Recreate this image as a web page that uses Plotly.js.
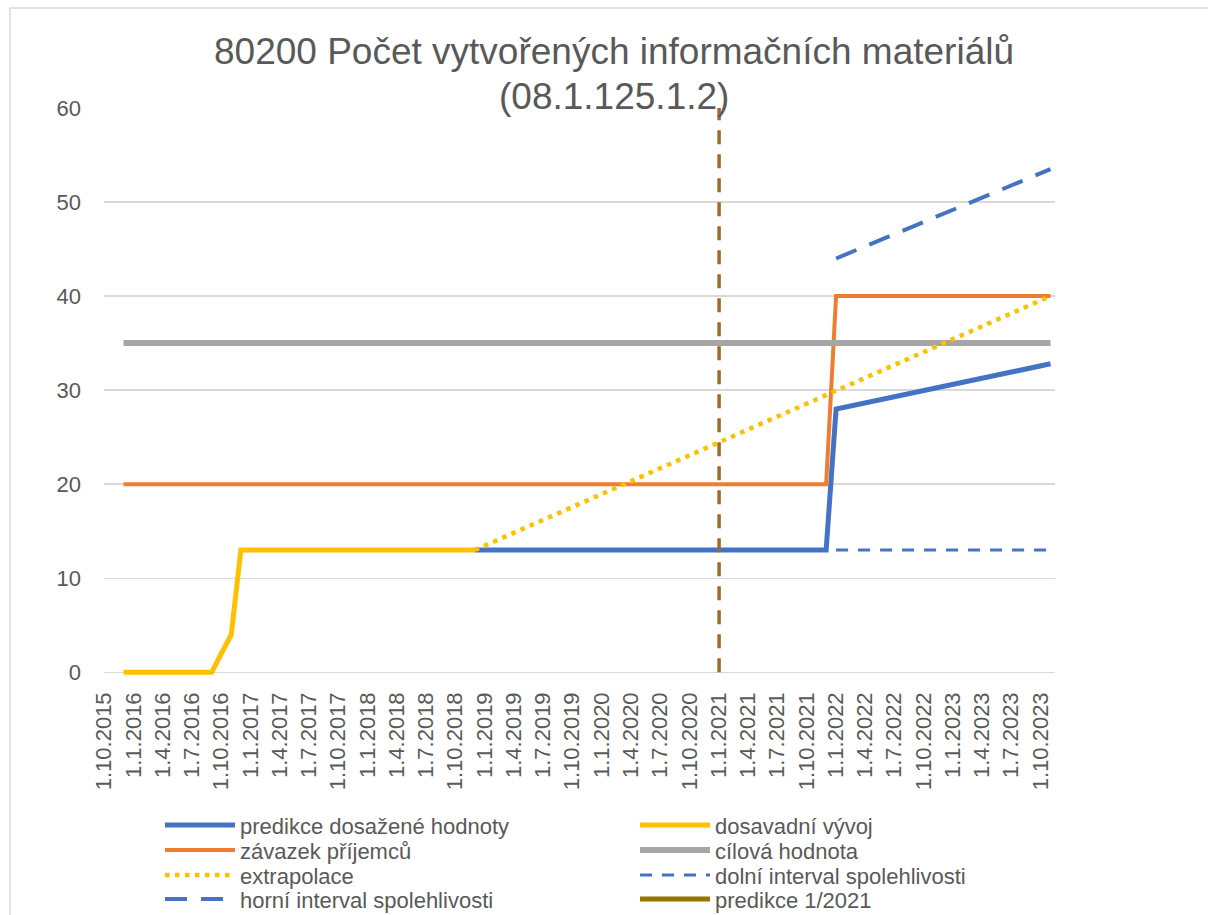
<!DOCTYPE html>
<html>
<head>
<meta charset="utf-8">
<script src="https://cdn.plot.ly/plotly-3.0.1.min.js"></script>
<style>html,body{margin:0;padding:0;background:#fff;}#chart{width:1208px;height:915px;}</style>
</head>
<body>
<div id="chart"></div>
<script>
// Data
var historyDates = ['2015-12-01','2016-09-01','2016-10-01','2016-11-01','2016-12-01','2018-12-01'];
var historyValues = [0, 0, 2, 4, 13, 13];

var predDates = ['2018-12-01','2021-12-01','2022-01-01','2023-11-01'];
var predValues = [13, 13, 28, 32.8];

var commitDates = ['2015-12-01','2021-12-01','2022-01-01','2023-11-01'];
var commitValues = [20, 20, 40, 40];

var targetDates = ['2015-12-01','2023-11-01'];
var targetValues = [35, 35];

var extrapDates = ['2018-12-01','2023-11-01'];
var extrapValues = [13, 40];

var lowerDates = ['2022-01-01','2023-11-01'];
var lowerValues = [13, 13];

var upperDates = ['2022-01-01','2023-11-01'];
var upperValues = [44, 53.5];

var predictionMarkDates = ['2021-01-01','2021-01-01'];
var predictionMarkValues = [0, 60];

var yTicks = [0, 10, 20, 30, 40, 50, 60];

var titleLine1 = '80200 Počet vytvořených informačních materiálů';
var titleLine2 = '(08.1.125.1.2)';

var names = {
  pred: 'predikce dosažené hodnoty',
  hist: 'dosavadní vývoj',
  commit: 'závazek příjemců',
  target: 'cílová hodnota',
  extrap: 'extrapolace',
  lower: 'dolní interval spolehlivosti',
  upper: 'horní interval spolehlivosti',
  mark: 'predikce 1/2021'
};

var traces = [
  {x: predDates, y: predValues, name: names.pred, mode: 'lines', line: {color: '#4472C4', width: 5}, legend: 'legend'},
  {x: commitDates, y: commitValues, name: names.commit, mode: 'lines', line: {color: '#ED7D31', width: 4}, legend: 'legend3'},
  {x: targetDates, y: targetValues, name: names.target, mode: 'lines', line: {color: '#A5A5A5', width: 6}, legend: 'legend4'},
  {x: extrapDates, y: extrapValues, name: names.extrap, mode: 'lines', line: {color: '#FFC000', width: 4.5, dash: '4.5px,5.5px'}, legend: 'legend5'},
  {x: lowerDates, y: lowerValues, name: names.lower, mode: 'lines', line: {color: '#4472C4', width: 3, dash: '12px,10px'}, legend: 'legend6'},
  {x: upperDates, y: upperValues, name: names.upper, mode: 'lines', line: {color: '#4472C4', width: 4, dash: '22px,14px'}, legend: 'legend7'},
  {x: historyDates, y: historyValues, name: names.hist, mode: 'lines', line: {color: '#FFC000', width: 5}, legend: 'legend2'},
  {x: predictionMarkDates, y: predictionMarkValues, name: names.mark, mode: 'lines', line: {color: '#A5682A', width: 3.5, dash: '14px,10px'}, showlegend: false},
  {x: [null], y: [null], name: names.mark, mode: 'lines', line: {color: '#997300', width: 5}, legend: 'legend8'}
];

var yMin = -0.5;
var plotL = 104, plotR = 1055, plotT = 108, plotB = 672 + 0.5 * 9.4;

var legFont = 22;
var rowCenters = [825, 850, 875, 899];
var colX = [160, 635];
function legendBox(col, row) {
  var top = rowCenters[row] - 5 - (1.3 * legFont + 3) / 2;
  return {
    xref: 'container', yref: 'container',
    x: colX[col] / 1208, xanchor: 'left',
    y: 1 - top / 915, yanchor: 'top',
    orientation: 'v', itemwidth: 70,
    bgcolor: 'rgba(0,0,0,0)',
    font: {size: legFont, color: '#595959'}
  };
}

var layout = {
  width: 1208, height: 915,
  margin: {l: plotL, r: 1208 - plotR, t: plotT, b: 915 - plotB, pad: 0, autoexpand: false},
  paper_bgcolor: '#fff', plot_bgcolor: '#fff',
  font: {family: 'Liberation Sans, Arial, sans-serif', color: '#595959', size: 22},
  title: {
    text: titleLine1,
    font: {size: 37, color: '#595959'},
    x: 614 / 1208, xref: 'container', xanchor: 'center',
    y: 1 - 51 / 915, yref: 'container', yanchor: 'middle'
  },
  annotations: [{
    text: titleLine2, showarrow: false,
    xref: 'paper', yref: 'paper',
    x: (614 - plotL) / (plotR - plotL), xanchor: 'center',
    y: (plotB - 97) / (plotB - plotT), yanchor: 'middle',
    font: {size: 37, color: '#595959'}
  }],
  xaxis: {
    type: 'date',
    range: ['2015-10-01', '2023-11-15'],
    tick0: '2015-10-01', dtick: 'M3',
    tickformat: '%-d.%-m.%Y',
    tickangle: -90,
    showgrid: false, zeroline: false, showline: false,
    ticks: '', ticklabelstandoff: 10,
    tickfont: {size: 22, color: '#595959'},
    fixedrange: true
  },
  yaxis: {
    range: [yMin, 60], tickvals: yTicks,
    showgrid: true, gridcolor: '#D9D9D9', gridwidth: 1.5,
    zeroline: true, zerolinecolor: '#D9D9D9', zerolinewidth: 1.5,
    showline: false, ticks: '', ticklabelstandoff: 22,
    tickfont: {size: 22, color: '#595959'},
    fixedrange: true
  },
  showlegend: true,
  legend: legendBox(0, 0),
  legend2: legendBox(1, 0),
  legend3: legendBox(0, 1),
  legend4: legendBox(1, 1),
  legend5: legendBox(0, 2),
  legend6: legendBox(1, 2),
  legend7: legendBox(0, 3),
  legend8: legendBox(1, 3),
  shapes: [{
    type: 'rect', xref: 'paper', yref: 'paper',
    x0: (10 - plotL) / (plotR - plotL), x1: (1240 - plotL) / (plotR - plotL),
    y0: (plotB - 950) / (plotB - plotT), y1: (plotB - 8) / (plotB - plotT),
    line: {color: '#D9D9D9', width: 1.5}, layer: 'below'
  }]
};

Plotly.newPlot('chart', traces, layout, {displayModeBar: false, staticPlot: true});
</script>
</body>
</html>
